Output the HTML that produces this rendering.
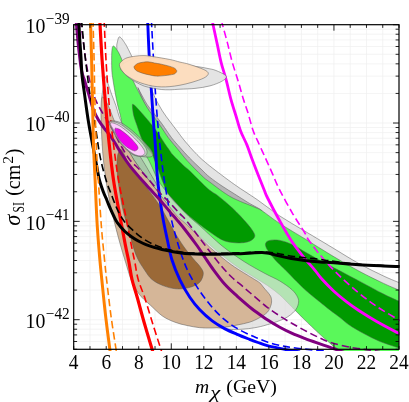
<!DOCTYPE html>
<html><head><meta charset="utf-8"><title>chart</title>
<style>html,body{margin:0;padding:0;background:#fff}svg{display:block}text{font-family:"Liberation Serif",serif;fill:#000}.r path{stroke:#555;stroke-width:.5;stroke-linejoin:round}.l path{fill:none;stroke-linecap:butt;stroke-linejoin:round}.s path{stroke-width:3}.d path{stroke-width:1.4;stroke-dasharray:7.4 3.8}</style></head><body>
<svg width="409" height="402" viewBox="0 0 409 402">
<rect width="409" height="402" fill="#fff"/>
<defs><clipPath id="c"><rect x="73.7" y="23.2" width="325.3" height="327.7"/></clipPath><clipPath id="c2"><rect x="73.1" y="23.1" width="326.5" height="327.8"/></clipPath></defs>
<path d="M89.97 24.7V349.3M106.23 24.7V349.3M122.5 24.7V349.3M138.76 24.7V349.3M155.03 24.7V349.3M171.29 24.7V349.3M187.56 24.7V349.3M203.82 24.7V349.3M220.08 24.7V349.3M236.35 24.7V349.3M252.62 24.7V349.3M268.88 24.7V349.3M285.14 24.7V349.3M301.41 24.7V349.3M317.68 24.7V349.3M333.94 24.7V349.3M350.2 24.7V349.3M366.47 24.7V349.3M382.74 24.7V349.3M73.7 123.03H399M73.7 93.43H399M73.7 76.11H399M73.7 63.83H399M73.7 54.3H399M73.7 46.51H399M73.7 39.93H399M73.7 34.23H399M73.7 29.2H399M73.7 221.36H399M73.7 191.76H399M73.7 174.44H399M73.7 162.16H399M73.7 152.63H399M73.7 144.84H399M73.7 138.26H399M73.7 132.56H399M73.7 127.53H399M73.7 319.69H399M73.7 290.09H399M73.7 272.77H399M73.7 260.49H399M73.7 250.96H399M73.7 243.17H399M73.7 236.59H399M73.7 230.89H399M73.7 225.86H399M73.7 349.29H399M73.7 341.5H399M73.7 334.92H399M73.7 329.22H399M73.7 324.19H399" stroke="#efefef" stroke-width="0.7" fill="none"/>
<g class="r" clip-path="url(#c)">
<path d="M119.7 36.9C121.15 37.32 124.12 41.92 126 44.9C127.88 47.88 129.17 51.28 131 54.8C132.83 58.32 135 62.47 137 66C139 69.53 140.9 72.83 143 76C145.1 79.17 147.62 81.43 149.6 85C151.58 88.57 152.78 93.1 154.9 97.4C157.02 101.7 159.82 106.82 162.3 110.8C164.78 114.78 167.32 117.93 169.8 121.3C172.28 124.67 174.7 127.72 177.2 131C179.7 134.28 181.5 137.07 184.8 141C188.1 144.93 192.87 150.47 197 154.6C201.13 158.73 203.33 160.8 209.6 165.8C215.87 170.8 226.7 178.98 234.6 184.6C242.5 190.22 249.47 194.27 257 199.5C264.53 204.73 271.87 210.75 279.8 216C287.73 221.25 296.07 225.87 304.6 231C313.13 236.13 321.97 241.38 331 246.8C340.03 252.22 350.03 258.63 358.8 263.5C367.57 268.37 377.07 272.88 383.6 276C390.13 279.12 393.6 280.37 398 282.2C402.4 284.03 408 284.03 410 287C412 289.97 428.33 307.83 410 300C391.67 292.17 330 256.67 300 240C270 223.33 250 213.33 230 200C210 186.67 193.33 173.33 180 160C166.67 146.67 158.33 131.67 150 120C141.67 108.33 135.33 100 130 90C124.67 80 120.2 67.1 118 60C115.8 52.9 116.92 50.33 116.8 47.4C116.68 44.47 116.82 44.15 117.3 42.4C117.78 40.65 118.25 36.48 119.7 36.9Z" fill="#e4e4e4"/>
<path d="M138 88C137.28 86 139.13 90.18 140.7 93C142.27 95.82 145.03 101.3 147.4 104.9C149.77 108.5 152.42 111.37 154.9 114.6C157.38 117.83 159.52 120.45 162.3 124.3C165.08 128.15 168.65 133.83 171.6 137.7C174.55 141.57 177 144.12 180 147.5C183 150.88 185.93 154.25 189.6 158C193.27 161.75 198.68 166.83 202 170C205.32 173.17 206.17 174.33 209.5 177C212.83 179.67 217.82 183.17 222 186C226.18 188.83 230.27 191.25 234.6 194C238.93 196.75 243.38 199.67 248 202.5C252.62 205.33 261.97 209.75 262.3 211C262.63 212.25 255.38 211.83 250 210C244.62 208.17 237.5 204.67 230 200C222.5 195.33 213.33 188.67 205 182C196.67 175.33 187.5 167.83 180 160C172.5 152.17 165.83 144.17 160 135C154.17 125.83 148.67 112.83 145 105C141.33 97.17 138.72 90 138 88Z" fill="#b4b4b4"/>
<path d="M113.5 46C114.62 46.05 117 49.8 118.5 52.3C120 54.8 121.08 58.05 122.5 61C123.92 63.95 125.67 67.5 127 70C128.33 72.5 129.47 74.17 130.5 76C131.53 77.83 131.63 77.93 133.2 81C134.77 84.07 137.53 89.92 139.9 94.4C142.27 98.88 144.9 103.92 147.4 107.9C149.9 111.88 152.42 114.83 154.9 118.3C157.38 121.77 160.07 125.47 162.3 128.7C164.53 131.93 165.82 134.4 168.3 137.7C170.78 141 174.08 144.7 177.2 148.5C180.32 152.3 182.87 155.95 187 160.5C191.13 165.05 198.2 172.2 202 175.8C205.8 179.4 204.97 178.57 209.8 182.1C214.63 185.63 223.48 192.8 231 197C238.52 201.2 249.68 204.97 254.9 207.3C260.12 209.63 258.15 208.3 262.3 211C266.45 213.7 272.52 218.75 279.8 223.5C287.08 228.25 297.47 234.25 306 239.5C314.53 244.75 322.2 249.75 331 255C339.8 260.25 350.03 266.27 358.8 271C367.57 275.73 377.07 280.28 383.6 283.4C390.13 286.52 393.27 287.6 398 289.7C402.73 291.8 409.67 284.28 412 296C414.33 307.72 423.83 349.33 412 360C400.17 370.67 353 361.17 341 360C329 358.83 340.43 354.73 340 353C339.57 351.27 339.4 350.65 338.4 349.6C337.4 348.55 335.48 347.83 334 346.7C332.52 345.57 332.08 345.08 329.5 342.8C326.92 340.52 322.65 336.83 318.5 333C314.35 329.17 308.37 323.47 304.6 319.8C300.83 316.13 298.38 313.5 295.9 311C293.42 308.5 292.38 307.48 289.7 304.8C287.02 302.12 283.53 298.13 279.8 294.9C276.07 291.67 271.87 288.52 267.3 285.4C262.73 282.28 257.85 279.6 252.4 276.2C246.95 272.8 241.7 270.2 234.6 265C227.5 259.8 218.08 252.17 209.8 245C201.52 237.83 193.87 230.83 184.9 222C175.93 213.17 162.98 199.83 156 192C149.02 184.17 147 180.83 143 175C139 169.17 135.17 162.83 132 157C128.83 151.17 125.82 146.33 124 140C122.18 133.67 122.17 124.83 121.1 119C120.03 113.17 118.62 109.5 117.6 105C116.58 100.5 115.77 96.17 115 92C114.23 87.83 113.53 83.7 113 80C112.47 76.3 112 74.47 111.8 69.8C111.6 65.13 111.52 55.97 111.8 52C112.08 48.03 112.38 45.95 113.5 46Z" fill="#5af85a"/>
<path d="M132.4 104.9C132.53 103.2 133.7 104.78 134.5 105.3C135.3 105.82 135.78 106.47 137.2 108C138.62 109.53 141.03 112.25 143 114.5C144.97 116.75 147.02 119.1 149 121.5C150.98 123.9 153.1 126.52 154.9 128.9C156.7 131.28 158.17 133.35 159.8 135.8C161.43 138.25 163.07 141.15 164.7 143.6C166.33 146.05 168.22 148.58 169.6 150.5C170.98 152.42 170.78 152.68 173 155.1C175.22 157.52 180.1 162.37 182.9 165C185.7 167.63 187.02 168.28 189.8 170.9C192.58 173.52 196.33 177.52 199.6 180.7C202.87 183.88 206.42 187.55 209.4 190C212.38 192.45 214.92 193.5 217.5 195.4C220.08 197.3 222.42 199.28 224.9 201.4C227.38 203.52 229.9 205.73 232.4 208.1C234.9 210.47 237.42 212.98 239.9 215.6C242.38 218.22 245.2 221.32 247.3 223.8C249.4 226.28 251.25 228.52 252.5 230.5C253.75 232.48 254.8 234.2 254.8 235.7C254.8 237.2 253.75 238.45 252.5 239.5C251.25 240.55 249.4 241.43 247.3 242C245.2 242.57 242.38 242.82 239.9 242.9C237.42 242.98 234.9 242.82 232.4 242.5C229.9 242.18 227.38 241.88 224.9 241C222.42 240.12 219.98 238.7 217.5 237.2C215.02 235.7 213.08 234.2 210 232C206.92 229.8 202.37 226.57 199 224C195.63 221.43 193.33 219.58 189.8 216.6C186.27 213.62 181.33 209.72 177.8 206.1C174.27 202.48 171.07 198.85 168.6 194.9C166.13 190.95 164.68 186.55 163 182.4C161.32 178.25 159.75 173.23 158.5 170C157.25 166.77 156.48 165.52 155.5 163C154.52 160.48 153.85 157.23 152.6 154.9C151.35 152.57 149.48 151 148 149C146.52 147 145.05 145.4 143.7 142.9C142.35 140.4 141.03 136.98 139.9 134C138.77 131.02 137.93 128.08 136.9 125C135.87 121.92 134.45 118.85 133.7 115.5C132.95 112.15 132.27 106.6 132.4 104.9Z" fill="#009a00"/>
<path d="M265.6 243.4C266.02 241.87 267.43 240.9 269.8 240.4C272.17 239.9 276.07 239.7 279.8 240.4C283.53 241.1 287.83 242.57 292.2 244.6C296.57 246.63 301.53 250.03 306 252.6C310.47 255.17 314.75 257.68 319 260C323.25 262.32 324.87 263.02 331.5 266.5C338.13 269.98 350.12 276.3 358.8 280.9C367.48 285.5 377.07 290.78 383.6 294.1C390.13 297.42 393.27 298.65 398 300.8C402.73 302.95 409.67 298.3 412 307C414.33 315.7 414.28 346.2 412 353C409.72 359.8 401.33 348.92 398.3 347.8C395.27 346.68 397.03 347.43 393.8 346.3C390.57 345.17 383.88 343.12 378.9 341C373.92 338.88 368.88 336.3 363.9 333.6C358.92 330.9 352.98 327.48 349 324.8C345.02 322.12 343.18 319.98 340 317.5C336.82 315.02 334.08 313.17 329.9 309.9C325.72 306.63 318.88 301.13 314.9 297.9C310.92 294.67 308.98 293.18 306 290.5C303.02 287.82 300.55 285.35 297 281.8C293.45 278.25 288.4 272.93 284.7 269.2C281 265.47 277.7 262.67 274.8 259.4C271.9 256.13 268.83 252.27 267.3 249.6C265.77 246.93 265.18 244.93 265.6 243.4Z" fill="#009a00"/>
<path d="M104.8 76.5C105.5 75.77 106.43 79.55 107.6 82.6C108.77 85.65 110.43 91.02 111.8 94.8C113.17 98.58 114.52 101.52 115.8 105.3C117.08 109.08 118.13 113.88 119.5 117.5C120.87 121.12 122.42 124.25 124 127C125.58 129.75 127 131.42 129 134C131 136.58 133.08 138.75 136 142.5C138.92 146.25 143.83 152.42 146.5 156.5C149.17 160.58 150.08 163.08 152 167C153.92 170.92 155.5 175.75 158 180C160.5 184.25 163.67 188.33 167 192.5C170.33 196.67 174.33 201 178 205C181.67 209 185.33 213 189 216.5C192.67 220 194.47 221.08 200 226C205.53 230.92 214.87 240.08 222.2 246C229.53 251.92 236.87 256.92 244 261.5C251.13 266.08 259.03 270.25 265 273.5C270.97 276.75 275.27 278.27 279.8 281C284.33 283.73 289.22 287.17 292.2 289.9C295.18 292.63 296.67 295.12 297.7 297.4C298.73 299.68 298.9 301.33 298.4 303.6C297.9 305.87 296.98 308.52 294.7 311C292.42 313.48 289.27 316.22 284.7 318.5C280.13 320.78 272.27 323.17 267.3 324.7C262.33 326.23 259.05 326.95 254.9 327.7C250.75 328.45 246.55 328.92 242.4 329.2C238.25 329.48 235.06 329.78 230 329.4C224.94 329.02 217.04 327.37 212.03 326.9C207.01 326.43 204.04 327.02 199.91 326.61C195.78 326.19 191.34 325.33 187.24 324.43C183.14 323.52 179.33 322.73 175.3 321.17C171.26 319.62 167.12 317.96 163.03 315.1C158.94 312.23 154.14 307.07 150.74 303.99C147.34 300.9 144.97 299.15 142.62 296.56C140.27 293.97 138.4 291.34 136.64 288.43C134.88 285.52 133.71 283.57 132.03 279.11C130.35 274.65 128.45 267.91 126.55 261.68C124.66 255.45 122.72 249.2 120.66 241.71C118.6 234.22 115.87 223.73 114.17 216.74C112.47 209.75 111.54 205.1 110.48 199.78C109.42 194.47 108.79 191.49 107.79 184.84C106.79 178.19 105.36 168.71 104.49 159.89C103.63 151.08 103 140.6 102.6 131.95C102.2 123.3 102.23 113.8 102.1 107.98C101.97 102.15 101.58 100.5 101.8 97C102.02 93.5 102.9 90.42 103.4 87C103.9 83.58 104.1 77.23 104.8 76.5Z" fill="#dadada" fill-opacity=".7"/>
<path d="M127 147.5C127.48 149.98 131.23 155.73 133.9 159.9C136.57 164.07 139.9 168.32 143 172.5C146.1 176.68 149.67 181.33 152.5 185C155.33 188.67 159.08 194.17 160 194.5C160.92 194.83 159.67 190.58 158 187C156.33 183.42 152.42 177.17 150 173C147.58 168.83 145.67 165.5 143.5 162C141.33 158.5 139.08 154.83 137 152C134.92 149.17 132.67 145.75 131 145C129.33 144.25 126.52 145.02 127 147.5Z" fill="#a8c8a8" stroke-width=".3"/>
<path d="M102.5 97C103.67 96.5 106.42 102 108 105C109.58 108 110.67 111.67 112 115C113.33 118.33 114.42 121.33 116 125C117.58 128.67 119.67 133.25 121.5 137C123.33 140.75 124.93 143.68 127 147.5C129.07 151.32 131.23 155.73 133.9 159.9C136.57 164.07 139.9 168.32 143 172.5C146.1 176.68 149.33 180.92 152.5 185C155.67 189.08 158.77 192.9 162 197C165.23 201.1 169.08 206.17 171.9 209.6C174.72 213.03 176.73 215.37 178.9 217.6C181.07 219.83 181.88 220.18 184.9 223C187.92 225.82 192.85 230.47 197 234.5C201.15 238.53 205.63 243.37 209.8 247.2C213.97 251.03 217.87 254.2 222 257.5C226.13 260.8 229.57 263.58 234.6 267C239.63 270.42 247.98 275.33 252.2 278C256.42 280.67 257.93 281.33 259.9 283C261.87 284.67 262.35 286.02 264 288C265.65 289.98 268.55 292.98 269.8 294.9C271.05 296.82 271.3 297.82 271.5 299.5C271.7 301.18 271.7 302.87 271 305C270.3 307.13 269.3 310.13 267.3 312.3C265.3 314.47 261.97 316.35 259 318C256.03 319.65 253.17 321.03 249.5 322.2C245.83 323.37 241.15 324.17 237 325C232.85 325.83 228.77 326.7 224.6 327.2C220.43 327.7 216.13 327.92 212 328C207.87 328.08 203.97 328.12 199.8 327.7C195.63 327.28 191.15 326.42 187 325.5C182.85 324.58 179 323.78 174.9 322.2C170.8 320.62 166.55 318.9 162.4 316C158.25 313.1 153.43 307.92 150 304.8C146.57 301.68 144.18 299.93 141.8 297.3C139.42 294.67 137.5 291.97 135.7 289C133.9 286.03 132.7 284 131 279.5C129.3 275 127.4 268.25 125.5 262C123.6 255.75 121.67 249.5 119.6 242C117.53 234.5 114.8 224 113.1 217C111.4 210 110.47 205.33 109.4 200C108.33 194.67 107.7 191.67 106.7 185C105.7 178.33 104.27 168.83 103.4 160C102.53 151.17 101.9 140.67 101.5 132C101.1 123.33 100.83 113.83 101 108C101.17 102.17 101.33 97.5 102.5 97Z" fill="#d5b698"/>
<path d="M121.1 149.4C122.18 149.98 123.53 153.07 125 156C126.47 158.93 127.42 163.08 129.9 167C132.38 170.92 136.58 175.38 139.9 179.5C143.22 183.62 146.48 187.33 149.8 191.7C153.12 196.07 156.82 201.05 159.8 205.7C162.78 210.35 165.17 215.05 167.7 219.6C170.23 224.15 172.28 228.43 175 233C177.72 237.57 180.92 242.67 184 247C187.08 251.33 190.83 255.75 193.5 259C196.17 262.25 198.37 264.08 200 266.5C201.63 268.92 203.38 270.83 203.3 273.5C203.22 276.17 201.88 280.15 199.5 282.5C197.12 284.85 192.92 286.55 189 287.6C185.08 288.65 180.33 289.13 176 288.8C171.67 288.47 167 287.15 163 285.6C159 284.05 155.07 282.1 152 279.5C148.93 276.9 147.27 274.08 144.6 270C141.93 265.92 138.68 261.67 136 255C133.32 248.33 130.67 237.5 128.5 230C126.33 222.5 124.38 215.83 123 210C121.62 204.17 121.03 200 120.2 195C119.37 190 118.53 184.5 118 180C117.47 175.5 117.12 171.67 117 168C116.88 164.33 117.05 160.58 117.3 158C117.55 155.42 117.87 153.93 118.5 152.5C119.13 151.07 120.02 148.82 121.1 149.4Z" fill="#9b6937"/>
</g>
<g class="l" clip-path="url(#c2)">
<path d="M147.7 20C147.72 20.67 147.55 18 147.8 24C148.05 30 148.63 45.33 149.2 56C149.77 66.67 150.45 76.5 151.2 88C151.95 99.5 153.02 115.5 153.7 125C154.38 134.5 154.65 135.92 155.3 145C155.95 154.08 156.42 167.83 157.6 179.5C158.78 191.17 160.77 204.92 162.4 215C164.03 225.08 165.8 232.5 167.4 240C169 247.5 169.92 253.35 172 260C174.08 266.65 176.93 273.68 179.9 279.9C182.87 286.12 186.48 292.32 189.8 297.3C193.12 302.28 196.07 305.87 199.8 309.8C203.53 313.73 208.07 317.77 212.2 320.9C216.33 324.03 220.45 326.37 224.6 328.6C228.75 330.83 232.95 332.52 237.1 334.3C241.25 336.08 246.02 337.93 249.5 339.3C252.98 340.67 255.03 341.45 258 342.5C260.97 343.55 263.67 344.62 267.3 345.6C270.93 346.58 276.68 347.73 279.8 348.4C282.92 349.07 282.63 349 286 349.6C289.37 350.2 297.67 351.6 300 352" stroke="#0000ff" stroke-width="2.9"/>
<path d="M151.5 20C151.52 20.67 151.3 18 151.6 24C151.9 30 152.72 45.33 153.3 56C153.88 66.67 154.33 76.5 155.1 88C155.87 99.5 157 114.67 157.9 125C158.8 135.33 159.45 140.92 160.5 150C161.55 159.08 162.55 168.67 164.2 179.5C165.85 190.33 168.3 204.92 170.4 215C172.5 225.08 174.65 232.5 176.8 240C178.95 247.5 181.13 254.18 183.3 260C185.47 265.82 187.05 269.72 189.8 274.9C192.55 280.08 196.07 285.7 199.8 291.1C203.53 296.5 208.07 302.53 212.2 307.3C216.33 312.07 220.45 316.18 224.6 319.7C228.75 323.22 232.95 325.88 237.1 328.4C241.25 330.92 246.02 333.13 249.5 334.8C252.98 336.47 255.03 337.18 258 338.4C260.97 339.62 263.67 340.93 267.3 342.1C270.93 343.27 275.65 344.48 279.8 345.4C283.95 346.32 287.23 346.9 292.2 347.6C297.17 348.3 304.13 349.03 309.6 349.6C315.07 350.17 322.43 350.77 325 351" stroke="#0000ff" stroke-width="1.6" stroke-dasharray="7.4 3.8"/>
<path d="M76 20C76.08 20.83 76.12 20.85 76.5 25C76.88 29.15 77.48 37.43 78.3 44.9C79.12 52.37 80.38 63.95 81.4 69.8C82.42 75.65 83.15 75.82 84.4 80C85.65 84.18 87.4 89.92 88.9 94.9C90.4 99.88 91.78 105.67 93.4 109.9C95.02 114.13 96.85 117.32 98.6 120.3C100.35 123.28 102.03 125.32 103.9 127.8C105.77 130.28 107.95 132.67 109.8 135.2C111.65 137.73 112.97 139.78 115 143C117.03 146.22 119.52 150.68 122 154.5C124.48 158.32 126.92 162.02 129.9 165.9C132.88 169.78 136.58 173.98 139.9 177.8C143.22 181.62 146.48 185.15 149.8 188.8C153.12 192.45 156.48 195.9 159.8 199.7C163.12 203.5 166.88 208.28 169.7 211.6C172.52 214.92 174.17 216.62 176.7 219.6C179.23 222.58 181.47 225.1 184.9 229.5C188.33 233.9 193.95 241.33 197.3 246C200.65 250.67 202.52 253.83 205 257.5C207.48 261.17 208.93 263.58 212.2 268C215.47 272.42 220.45 279.32 224.6 284C228.75 288.68 232.95 292.3 237.1 296.1C241.25 299.9 246.53 304.32 249.5 306.8C252.47 309.28 251.93 308.83 254.9 311C257.87 313.17 263.15 317.1 267.3 319.8C271.45 322.5 275.65 324.93 279.8 327.2C283.95 329.47 288.07 331.53 292.2 333.4C296.33 335.27 300.45 336.82 304.6 338.4C308.75 339.98 312.95 341.45 317.1 342.9C321.25 344.35 326.28 345.98 329.5 347.1C332.72 348.22 333.82 348.7 336.4 349.6C338.98 350.5 343.57 352.02 345 352.5" stroke="#800080" stroke-width="3.0"/>
<path d="M80.6 20C80.7 20.83 80.68 20.85 81.2 25C81.72 29.15 82.67 37.43 83.7 44.9C84.73 52.37 85.75 61.52 87.4 69.8C89.05 78.08 91.32 87.82 93.6 94.6C95.88 101.38 98.37 105.52 101.1 110.5C103.83 115.48 107.52 120.25 110 124.5C112.48 128.75 114 132.17 116 136C118 139.83 119.68 143.52 122 147.5C124.32 151.48 126.92 156.17 129.9 159.9C132.88 163.63 136.58 166.42 139.9 169.9C143.22 173.38 146.48 177 149.8 180.8C153.12 184.6 156.48 189.05 159.8 192.7C163.12 196.35 166.38 199.22 169.7 202.7C173.02 206.18 177.05 210.78 179.7 213.6C182.35 216.42 182.67 216.03 185.6 219.6C188.53 223.17 193.27 229.68 197.3 235C201.33 240.32 205.65 246.17 209.8 251.5C213.95 256.83 218.48 262.67 222.2 267C225.92 271.33 228.73 274.3 232.1 277.5C235.47 280.7 238.6 282.97 242.4 286.2C246.2 289.43 250.75 293.38 254.9 296.9C259.05 300.42 263.15 304.12 267.3 307.3C271.45 310.48 275.65 313.3 279.8 316C283.95 318.7 288.07 321.1 292.2 323.5C296.33 325.9 300.45 328.2 304.6 330.4C308.75 332.6 312.95 334.75 317.1 336.7C321.25 338.65 324.63 340.47 329.5 342.1C334.37 343.73 341.42 345.42 346.3 346.5C351.18 347.58 355.52 348.08 358.8 348.6C362.08 349.12 362.47 349.12 366 349.6C369.53 350.08 377.67 351.18 380 351.5" stroke="#800080" stroke-width="1.6" stroke-dasharray="7.4 3.8"/>
<path d="M212.1 20C212.23 20.67 212.02 19.85 212.9 24C213.78 28.15 216.03 38.52 217.4 44.9C218.77 51.28 219.65 56.5 221.1 62.3C222.55 68.1 224.45 73.48 226.1 79.7C227.75 85.92 229.35 93.55 231 99.6C232.65 105.65 234.4 110.77 236 116C237.6 121.23 238.78 126.18 240.6 131C242.42 135.82 244.93 140.07 246.9 144.9C248.87 149.73 250.52 154.98 252.4 160C254.28 165.02 256.23 170 258.2 175C260.17 180 262.63 186.17 264.2 190C265.77 193.83 265 192.83 267.6 198C270.2 203.17 275.7 213.65 279.8 221C283.9 228.35 288.07 235.88 292.2 242.1C296.33 248.32 300.87 253.68 304.6 258.3C308.33 262.92 311.8 266.43 314.6 269.8C317.4 273.17 318.18 274.93 321.4 278.5C324.62 282.07 329.75 287.35 333.9 291.2C338.05 295.05 342.15 298.38 346.3 301.6C350.45 304.82 353.82 307.23 358.8 310.5C363.78 313.77 369.67 317.45 376.2 321.2C382.73 324.95 393.2 330.47 398 333C402.8 335.53 403.83 335.83 405 336.4" stroke="#ff00ff" stroke-width="2.8"/>
<path d="M221.4 20C221.55 20.67 221.32 20.27 222.3 24C223.28 27.73 225.63 36.02 227.3 42.4C228.97 48.78 230.43 55.67 232.3 62.3C234.17 68.93 236.63 75.98 238.5 82.2C240.37 88.42 241.97 94.63 243.5 99.6C245.03 104.57 246.13 106.93 247.7 112C249.27 117.07 251.28 125.27 252.9 130C254.52 134.73 255.4 135.92 257.4 140.4C259.4 144.88 262.42 151.42 264.9 156.9C267.38 162.38 269.92 167.95 272.3 173.3C274.68 178.65 275.88 182.42 279.2 189C282.52 195.58 287.97 205.55 292.2 212.8C296.43 220.05 301.8 227.88 304.6 232.5C307.4 237.12 306.2 236.5 309 240.5C311.8 244.5 317.25 251.53 321.4 256.5C325.55 261.47 329.75 266.02 333.9 270.3C338.05 274.58 342.15 278.42 346.3 282.2C350.45 285.98 354.65 289.6 358.8 293C362.95 296.4 367.07 299.62 371.2 302.6C375.33 305.58 379.13 308.1 383.6 310.9C388.07 313.7 394.43 317.35 398 319.4C401.57 321.45 403.83 322.57 405 323.2" stroke="#ff00ff" stroke-width="1.6" stroke-dasharray="7.4 3.8"/>
<path d="M99.8 20C99.83 20.67 99.62 17.33 100 24C100.38 30.67 101.17 46.5 102.1 60C103.03 73.5 104.4 90.83 105.6 105C106.8 119.17 107.98 132.5 109.3 145C110.62 157.5 111.85 168.78 113.5 180C115.15 191.22 117.23 201.52 119.2 212.3C121.17 223.08 123.68 236.42 125.3 244.7C126.92 252.98 127.78 256.2 128.9 262C130.02 267.8 130.62 273.62 132 279.5C133.38 285.38 135.2 290.22 137.2 297.3C139.2 304.38 141.53 313.38 144 322C146.47 330.62 150.42 343.67 152 349C153.58 354.33 153.25 353.17 153.5 354" stroke="#ff0000" stroke-width="3.2"/>
<path d="M104 20C104.05 20.67 103.97 17.33 104.3 24C104.63 30.67 105.18 46.5 106 60C106.82 73.5 107.93 90.83 109.2 105C110.47 119.17 112.05 132.5 113.6 145C115.15 157.5 116.6 168.78 118.5 180C120.4 191.22 122.88 201.52 125 212.3C127.12 223.08 129.57 236.42 131.2 244.7C132.83 252.98 133.63 256.2 134.8 262C135.97 267.8 136.57 273.62 138.2 279.5C139.83 285.38 142.22 290.05 144.6 297.3C146.98 304.55 149.8 314.38 152.5 323C155.2 331.62 159.13 343.83 160.8 349C162.47 354.17 162.22 353.17 162.5 354" stroke="#ff0000" stroke-width="1.6" stroke-dasharray="7.4 3.8"/>
<path d="M78.7 20C78.75 20.83 78.82 21.67 79 25C79.18 28.33 79.47 34.62 79.8 40C80.13 45.38 80.63 51.47 81 57.3C81.37 63.13 81.4 68.78 82 75C82.6 81.22 83.52 86.77 84.6 94.6C85.68 102.43 87 112.8 88.5 122C90 131.2 92.12 141.85 93.6 149.8C95.08 157.75 96.43 164.67 97.4 169.7C98.37 174.73 98.4 176.28 99.4 180C100.4 183.72 102.17 188.67 103.4 192C104.63 195.33 105.7 197.35 106.8 200C107.9 202.65 108.88 205.32 110 207.9C111.12 210.48 112.28 213.05 113.5 215.5C114.72 217.95 115.43 219.98 117.3 222.6C119.17 225.22 122.22 228.77 124.7 231.2C127.18 233.63 129.77 235.48 132.2 237.2C134.63 238.92 137 240.25 139.3 241.5C141.6 242.75 143.55 243.72 146 244.7C148.45 245.68 151.33 246.6 154 247.4C156.67 248.2 159.33 248.88 162 249.5C164.67 250.12 166.18 250.45 170 251.1C173.82 251.75 178.27 252.87 184.9 253.4C191.53 253.93 201.52 254.23 209.8 254.3C218.08 254.37 227.12 254.05 234.6 253.8C242.08 253.55 250.13 253 254.7 252.8C259.27 252.6 259.95 252.58 262 252.6C264.05 252.62 265.33 252.67 267 252.9C268.67 253.13 270.38 253.58 272 254C273.62 254.42 273.48 254.67 276.7 255.4C279.92 256.13 286.65 257.57 291.3 258.4C295.95 259.23 299.82 259.82 304.6 260.4C309.38 260.98 315.12 261.5 320 261.9C324.88 262.3 327.43 262.32 333.9 262.8C340.37 263.28 350.52 264.27 358.8 264.8C367.08 265.33 377.07 265.72 383.6 266C390.13 266.28 394.93 266.4 398 266.5C401.07 266.6 401.33 266.58 402 266.6" stroke="#000000" stroke-width="3.0"/>
<path d="M81.5 20C81.58 20.83 81.65 21.27 82 25C82.35 28.73 83.07 37.02 83.6 42.4C84.13 47.78 84.63 52.37 85.2 57.3C85.77 62.23 86.4 67.05 87 72C87.6 76.95 88.13 82.33 88.8 87C89.47 91.67 90.17 95 91 100C91.83 105 92.85 111.17 93.8 117C94.75 122.83 95.85 129.5 96.7 135C97.55 140.5 97.98 144.83 98.9 150C99.82 155.17 100.85 160.5 102.2 166C103.55 171.5 105.53 178.42 107 183C108.47 187.58 109.73 190.17 111 193.5C112.27 196.83 113.55 200.35 114.6 203C115.65 205.65 116.27 207.23 117.3 209.4C118.33 211.57 119.57 213.92 120.8 216C122.03 218.08 122.83 219.67 124.7 221.9C126.57 224.13 129.57 227.08 132 229.4C134.43 231.72 136.85 233.88 139.3 235.8C141.75 237.72 144.25 239.43 146.7 240.9C149.15 242.37 151.57 243.5 154 244.6C156.43 245.7 158.72 246.62 161.3 247.5C163.88 248.38 165.55 249.05 169.5 249.9C173.45 250.75 178.28 252.02 185 252.6C191.72 253.18 200.63 253.35 209.8 253.4C218.97 253.45 231.97 253.13 240 252.9C248.03 252.67 253.17 252.12 258 252C262.83 251.88 265.33 251.87 269 252.2C272.67 252.53 276.17 253.33 280 254C283.83 254.67 287.83 255.57 292 256.2C296.17 256.83 300.83 257.33 305 257.8C309.17 258.27 312.92 258.5 317 259C321.08 259.5 324.83 260.17 329.5 260.8C334.17 261.43 339.92 262.22 345 262.8C350.08 263.38 353.57 263.83 360 264.3C366.43 264.77 376.6 265.32 383.6 265.6C390.6 265.88 398.93 265.93 402 266" stroke="#000000" stroke-width="1.6" stroke-dasharray="7.4 3.8"/>
<path d="M90.5 20C90.52 20.67 90.42 17.33 90.6 24C90.78 30.67 91.27 46.5 91.6 60C91.93 73.5 92.28 90.83 92.6 105C92.92 119.17 93.08 132.5 93.5 145C93.92 157.5 94.48 166.67 95.1 180C95.72 193.33 96.4 211.67 97.2 225C98 238.33 99.13 250.92 99.9 260C100.67 269.08 100.87 270.33 101.8 279.5C102.73 288.67 104.17 303.42 105.5 315C106.83 326.58 108.97 342.5 109.8 349C110.63 355.5 110.38 353.17 110.5 354" stroke="#ff8000" stroke-width="3.0"/>
<path d="M93 20C93.02 20.67 92.92 17.33 93.1 24C93.28 30.67 93.78 46.5 94.1 60C94.42 73.5 94.6 90 95 105C95.4 120 95.87 136.25 96.5 150C97.13 163.75 97.97 174.5 98.8 187.5C99.63 200.5 100.5 215.5 101.5 228C102.5 240.5 103.95 253.92 104.8 262.5C105.65 271.08 105.57 270.58 106.6 279.5C107.63 288.42 109.43 304.42 111 316C112.57 327.58 115.03 342.67 116 349C116.97 355.33 116.67 353.17 116.8 354" stroke="#ff8000" stroke-width="1.6" stroke-dasharray="7.4 3.8"/>
</g>
<g class="r" clip-path="url(#c)">
<path d="M120.5 67.5C121 65.83 123.47 63.5 126 62C128.53 60.5 131.23 59.17 135.7 58.5C140.17 57.83 147.08 57.58 152.8 58C158.52 58.42 163.8 59.75 170 61C176.2 62.25 185 64.5 190 65.5C195 66.5 197 66.5 200 67C203 67.5 205.33 67.92 208 68.5C210.67 69.08 213 69.25 216 70.5C219 71.75 224.95 74.25 226 76C227.05 77.75 224.98 79.35 222.3 81C219.62 82.65 214.45 84.67 209.9 85.9C205.35 87.13 199.98 87.85 195 88.4C190.02 88.95 184.18 88.97 180 89.2C175.82 89.43 173.02 89.75 169.9 89.8C166.78 89.85 164.15 89.78 161.3 89.5C158.45 89.22 155.65 88.67 152.8 88.1C149.95 87.53 147.05 87.12 144.2 86.1C141.35 85.08 138.4 83.52 135.7 82C133 80.48 130.12 78.67 128 77C125.88 75.33 124.25 73.58 123 72C121.75 70.42 120 69.17 120.5 67.5Z" fill="#e2e2e2" fill-opacity=".93"/>
<path d="M119.4 64.7C119.48 63 121.22 61.65 122.5 60.5C123.78 59.35 124.9 58.53 127.1 57.8C129.3 57.07 132.88 56.47 135.7 56.1C138.52 55.73 141.15 55.52 144 55.6C146.85 55.68 148.48 55.95 152.8 56.6C157.12 57.25 165.37 58.58 169.9 59.5C174.43 60.42 176.78 61.3 180 62.1C183.22 62.9 185.22 63.05 189.2 64.3C193.18 65.55 200.72 68.05 203.9 69.6C207.08 71.15 208.3 72.2 208.3 73.6C208.3 75 206.62 76.55 203.9 78C201.18 79.45 195.98 81.1 192 82.3C188.02 83.5 183.68 84.48 180 85.2C176.32 85.92 173.02 86.32 169.9 86.6C166.78 86.88 164.15 86.98 161.3 86.9C158.45 86.82 155.65 86.58 152.8 86.1C149.95 85.62 147.05 84.87 144.2 84C141.35 83.13 138.55 82.27 135.7 80.9C132.85 79.53 129.38 77.5 127.1 75.8C124.82 74.1 123.28 72.55 122 70.7C120.72 68.85 119.32 66.4 119.4 64.7Z" fill="#fddcbd" fill-opacity=".95"/>
<path d="M134 67.2C133.88 66.22 134.95 65.5 135.8 64.8C136.65 64.1 137.12 63.5 139.1 63C141.08 62.5 145.13 61.8 147.7 61.8C150.27 61.8 152.23 62.6 154.5 63C156.77 63.4 158.73 63.63 161.3 64.2C163.87 64.77 167.7 65.73 169.9 66.4C172.1 67.07 173.37 67.48 174.5 68.2C175.63 68.92 176.48 69.93 176.7 70.7C176.92 71.47 176.37 72.2 175.8 72.8C175.23 73.4 175.13 73.83 173.3 74.3C171.47 74.77 167.65 75.3 164.8 75.6C161.95 75.9 158.77 76.22 156.2 76.1C153.63 75.98 151.68 75.38 149.4 74.9C147.12 74.42 144.65 73.9 142.5 73.2C140.35 72.5 137.92 71.7 136.5 70.7C135.08 69.7 134.12 68.18 134 67.2Z" fill="#ff7f00"/>
<path d="M109.6 121.2C110.5 120.53 113.02 120.7 115 121C116.98 121.3 119.77 122.27 121.5 123C123.23 123.73 123.63 124.17 125.4 125.4C127.17 126.63 129.87 128.53 132.1 130.4C134.33 132.27 136.57 134.45 138.8 136.6C141.03 138.75 143.5 141.13 145.5 143.3C147.5 145.47 149.55 147.7 150.8 149.6C152.05 151.5 152.97 153.5 153 154.7C153.03 155.9 151.95 156.42 151 156.8C150.05 157.18 148.8 157.05 147.3 157C145.8 156.95 144.33 156.87 142 156.5C139.67 156.13 136.2 156.22 133.3 154.8C130.4 153.38 127.22 150.58 124.6 148C121.98 145.42 119.62 142.23 117.6 139.3C115.58 136.37 113.83 132.78 112.5 130.4C111.17 128.02 110.08 126.53 109.6 125C109.12 123.47 108.7 121.87 109.6 121.2Z" fill="#b4b4b4" fill-opacity=".62"/>
<path d="M110.2 121.8C111.08 121.33 113.6 121.67 115.5 122.2C117.4 122.73 119.05 123.4 121.6 125C124.15 126.6 127.73 129.23 130.8 131.8C133.87 134.37 137.53 137.77 140 140.4C142.47 143.03 144.43 145.67 145.6 147.6C146.77 149.53 147 150.72 147 152C147 153.28 146.72 154.57 145.6 155.3C144.48 156.03 142.35 156.57 140.3 156.4C138.25 156.23 135.92 155.82 133.3 154.3C130.68 152.78 127.22 149.92 124.6 147.3C121.98 144.68 119.53 141.5 117.6 138.6C115.67 135.7 114.23 132.17 113 129.9C111.77 127.63 110.67 126.35 110.2 125C109.73 123.65 109.32 122.27 110.2 121.8Z" fill="#ececec" fill-opacity=".55" stroke-width=".35"/>
<path d="M111 122.8C111.78 122.6 113.82 123.13 115.5 123.8C117.18 124.47 118.72 125.15 121.1 126.8C123.48 128.45 126.88 131.08 129.8 133.7C132.72 136.32 136.27 139.88 138.6 142.5C140.93 145.12 142.78 147.52 143.8 149.4C144.82 151.28 145.28 152.72 144.7 153.8C144.12 154.88 142.2 155.9 140.3 155.9C138.4 155.9 135.92 155.32 133.3 153.8C130.68 152.28 127.22 149.42 124.6 146.8C121.98 144.18 119.48 141 117.6 138.1C115.72 135.2 114.43 131.58 113.3 129.4C112.17 127.22 111.18 126.1 110.8 125C110.42 123.9 110.22 123 111 122.8Z" fill="#fccdfc"/>
<path d="M115 128.5C115.32 127.78 116.48 128.3 117.5 128.6C118.52 128.9 119.05 128.87 121.1 130.3C123.15 131.73 127.18 134.73 129.8 137.2C132.42 139.67 135.45 143.2 136.8 145.1C138.15 147 138.07 147.68 137.9 148.6C137.73 149.52 136.57 150.27 135.8 150.6C135.03 150.93 134.87 151.23 133.3 150.6C131.73 149.97 128.72 148.6 126.4 146.8C124.08 145 121.2 142.12 119.4 139.8C117.6 137.48 116.33 134.78 115.6 132.9C114.87 131.02 114.68 129.22 115 128.5Z" fill="#f000f0"/>
</g>
<path d="M73.7 349.3v-3.2M73.7 24.7v3.2M89.97 349.3v-3.2M89.97 24.7v3.2M106.23 349.3v-3.2M106.23 24.7v3.2M122.5 349.3v-3.2M122.5 24.7v3.2M138.76 349.3v-3.2M138.76 24.7v3.2M155.03 349.3v-3.2M155.03 24.7v3.2M171.29 349.3v-6M171.29 24.7v6M187.56 349.3v-3.2M187.56 24.7v3.2M203.82 349.3v-3.2M203.82 24.7v3.2M220.08 349.3v-3.2M220.08 24.7v3.2M236.35 349.3v-3.2M236.35 24.7v3.2M252.62 349.3v-3.2M252.62 24.7v3.2M268.88 349.3v-3.2M268.88 24.7v3.2M285.14 349.3v-3.2M285.14 24.7v3.2M301.41 349.3v-3.2M301.41 24.7v3.2M317.68 349.3v-3.2M317.68 24.7v3.2M333.94 349.3v-6M333.94 24.7v6M350.2 349.3v-3.2M350.2 24.7v3.2M366.47 349.3v-3.2M366.47 24.7v3.2M382.74 349.3v-3.2M382.74 24.7v3.2M399 349.3v-3.2M399 24.7v3.2M73.7 24.7h6M399 24.7h-6M73.7 123.03h6M399 123.03h-6M73.7 93.43h3.4M399 93.43h-3.4M73.7 76.11h3.4M399 76.11h-3.4M73.7 63.83h3.4M399 63.83h-3.4M73.7 54.3h3.4M399 54.3h-3.4M73.7 46.51h3.4M399 46.51h-3.4M73.7 39.93h3.4M399 39.93h-3.4M73.7 34.23h3.4M399 34.23h-3.4M73.7 29.2h3.4M399 29.2h-3.4M73.7 221.36h6M399 221.36h-6M73.7 191.76h3.4M399 191.76h-3.4M73.7 174.44h3.4M399 174.44h-3.4M73.7 162.16h3.4M399 162.16h-3.4M73.7 152.63h3.4M399 152.63h-3.4M73.7 144.84h3.4M399 144.84h-3.4M73.7 138.26h3.4M399 138.26h-3.4M73.7 132.56h3.4M399 132.56h-3.4M73.7 127.53h3.4M399 127.53h-3.4M73.7 319.69h6M399 319.69h-6M73.7 290.09h3.4M399 290.09h-3.4M73.7 272.77h3.4M399 272.77h-3.4M73.7 260.49h3.4M399 260.49h-3.4M73.7 250.96h3.4M399 250.96h-3.4M73.7 243.17h3.4M399 243.17h-3.4M73.7 236.59h3.4M399 236.59h-3.4M73.7 230.89h3.4M399 230.89h-3.4M73.7 225.86h3.4M399 225.86h-3.4M73.7 349.29h3.4M399 349.29h-3.4M73.7 341.5h3.4M399 341.5h-3.4M73.7 334.92h3.4M399 334.92h-3.4M73.7 329.22h3.4M399 329.22h-3.4M73.7 324.19h3.4M399 324.19h-3.4" stroke="#000" stroke-width="0.85" fill="none"/>
<rect x="73.7" y="24.7" width="325.3" height="324.6" fill="none" stroke="#000" stroke-width="1.2"/>
<g opacity="0.999">
<text transform="translate(73.7 368.8) scale(0.955 1)" font-size="20.3" text-anchor="middle">4</text>
<text transform="translate(106.23 368.8) scale(0.955 1)" font-size="20.3" text-anchor="middle">6</text>
<text transform="translate(138.76 368.8) scale(0.955 1)" font-size="20.3" text-anchor="middle">8</text>
<text transform="translate(171.29 368.8) scale(0.955 1)" font-size="20.3" text-anchor="middle">10</text>
<text transform="translate(203.82 368.8) scale(0.955 1)" font-size="20.3" text-anchor="middle">12</text>
<text transform="translate(236.35 368.8) scale(0.955 1)" font-size="20.3" text-anchor="middle">14</text>
<text transform="translate(268.88 368.8) scale(0.955 1)" font-size="20.3" text-anchor="middle">16</text>
<text transform="translate(301.41 368.8) scale(0.955 1)" font-size="20.3" text-anchor="middle">18</text>
<text transform="translate(333.94 368.8) scale(0.955 1)" font-size="20.3" text-anchor="middle">20</text>
<text transform="translate(366.47 368.8) scale(0.955 1)" font-size="20.3" text-anchor="middle">22</text>
<text transform="translate(399 368.8) scale(0.955 1)" font-size="20.3" text-anchor="middle">24</text>
<text transform="translate(25.5 32.9) scale(0.955 1)" font-size="20.8">10<tspan dx="0.5" dy="-9.2" font-size="16">−39</tspan></text>
<text transform="translate(25.5 131.23) scale(0.955 1)" font-size="20.8">10<tspan dx="0.5" dy="-9.2" font-size="16">−40</tspan></text>
<text transform="translate(25.5 229.56) scale(0.955 1)" font-size="20.8">10<tspan dx="0.5" dy="-9.2" font-size="16">−41</tspan></text>
<text transform="translate(25.5 327.89) scale(0.955 1)" font-size="20.8">10<tspan dx="0.5" dy="-9.2" font-size="16">−42</tspan></text>
<text y="392.6" font-size="19.6"><tspan x="195" font-style="italic">m</tspan><tspan x="210.3" font-style="italic" font-size="16" dy="5.3" textLength="10" lengthAdjust="spacingAndGlyphs">χ</tspan><tspan x="226.3" dy="-5.3" textLength="50.6" lengthAdjust="spacingAndGlyphs">(GeV)</tspan></text>
<text transform="translate(20.4 225.8) rotate(-90)" font-size="20"><tspan x="0" y="0" font-size="22.5" font-style="italic">σ</tspan><tspan x="13.4" y="3.5" font-size="17.5" textLength="10.2" lengthAdjust="spacingAndGlyphs">SI</tspan><tspan x="30.0" y="0">(cm</tspan><tspan x="62" y="-7.5" font-size="15.5">2</tspan><tspan x="70.6" y="0">)</tspan></text>
</g>
</svg></body></html>
